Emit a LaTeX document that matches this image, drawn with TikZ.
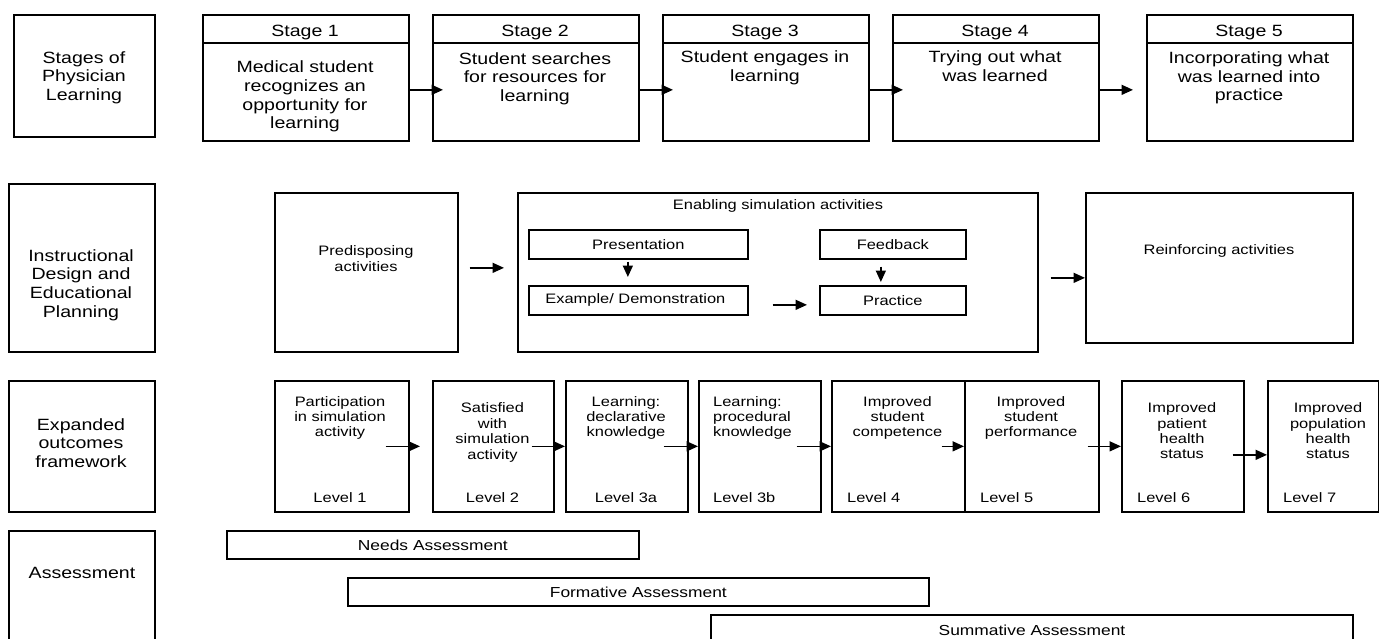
\documentclass[tikz,border=0pt]{standalone}
\usepackage{fontspec}
\setmainfont{Liberation Sans}[FakeStretch=1.2]
\usetikzlibrary{arrows.meta}
\newcommand\FBig{\fontsize{16.3}{18.7}\selectfont}
\newcommand\FSm{\fontsize{13.7}{15.4}\selectfont}
\newcommand\FAss{\fontsize{14.5}{16}\selectfont}
\newcommand\mybox[6][]{\node[box,minimum width={#5-#3},minimum height={#6-#4},#1] (#2) at (#3,#4) {};}
\begin{document}
\begin{tikzpicture}[x=1pt,y=-1pt,
  box/.style={draw, line width=1.7pt, inner sep=0pt, anchor=north west},
  arr/.style={-{Triangle[length=11.5pt,width=10pt]}, line width=1.6pt},
  big/.style={font=\FBig, align=center, inner sep=0pt},
  sm/.style={font=\FSm, align=center, inner sep=0pt},
  ass/.style={font=\FAss, align=center, inner sep=0pt}]
\useasboundingbox (0,0) rectangle (1379,639);
\clip (0,0) rectangle (1379,639);
% ---------- Row 1 ----------
\mybox{lab1}{13}{14}{154}{136}
\node[big] (lab1t) at (84,77.5) {Stages of\\Physician\\Learning};
\mybox{s1h}{202}{14}{408}{42}
\mybox{s1b}{202}{42}{408}{140}
\mybox{s2h}{432}{14}{638}{42}
\mybox{s2b}{432}{42}{638}{140}
\mybox{s3h}{662}{14}{868}{42}
\mybox{s3b}{662}{42}{868}{140}
\mybox{s4h}{892}{14}{1098}{42}
\mybox{s4b}{892}{42}{1098}{140}
\mybox{s5h}{1146}{14}{1352}{42}
\mybox{s5b}{1146}{42}{1352}{140}
\node[big] (s1ht) at (305,32.5) {Stage 1};
\node[big] (s2ht) at (535,32.5) {Stage 2};
\node[big] (s3ht) at (765,32.5) {Stage 3};
\node[big] (s4ht) at (995,32.5) {Stage 4};
\node[big] (s5ht) at (1249,32.5) {Stage 5};
\node[big] (s1t) at (305,96.5) {Medical student\\recognizes an\\opportunity for\\learning};
\node[big] (s2t) at (535,78.5) {Student searches\\for resources for\\learning};
\node[big] (s3t) at (765,68) {Student engages in\\learning};
\node[big] (s4t) at (995,66.5) {Trying out what\\was learned};
\node[big] (s5t) at (1249,78) {Incorporating what\\was learned into\\practice};
\draw[arr] ([yshift=2pt]s1b.east) -- ([yshift=2pt,xshift=11pt]s2b.west);
\draw[arr] ([yshift=2pt]s2b.east) -- ([yshift=2pt,xshift=11pt]s3b.west);
\draw[arr] ([yshift=2pt]s3b.east) -- ([yshift=2pt,xshift=11pt]s4b.west);
\draw[arr] ([yshift=2pt]s4b.east) -- ([yshift=2pt,xshift=-13pt]s5b.west);
% ---------- Row 2 ----------
\mybox{lab2}{8}{183}{154}{351}
\node[big] (lab2t) at (81,285) {Instructional\\Design and\\Educational\\Planning};
\mybox{pre}{274}{192}{457}{351}
\node[sm] (pret) at (366,258.5) {Predisposing\\activities};
\mybox{ena}{517}{192}{1037}{351}
\node[sm] (enat) at (778,206.3) {Enabling simulation activities};
\mybox[font=\FSm]{pres}{528}{229}{747}{258}
\mybox[font=\FSm]{exa}{528}{285}{747}{314}
\mybox[font=\FSm]{fee}{819}{229}{965}{258}
\mybox[font=\FSm]{pra}{819}{285}{965}{314}
\node[sm] (prest) at (pres.center) {Presentation};
\node[sm] (exat) at ([xshift=-3pt]exa.center) {Example/ Demonstration};
\node[sm] (feet) at (fee.center) {Feedback};
\node[sm] (prat) at (pra.center) {Practice};
\mybox{rei}{1085}{192}{1352}{342}
\node[sm] (reit) at (1219,251.3) {Reinforcing activities};
\draw[arr] ([xshift=11pt,yshift=4.5pt]pre.east) -- ([xshift=-13pt,yshift=4.5pt]ena.west);
\path ([xshift=12pt,yshift=-5.5pt]ena.east) coordinate (er1);
\draw[arr] (er1) -- (er1 -| rei.west);
\draw[arr] ([xshift=24pt,yshift=-4.5pt]exa.east) -- ([xshift=-12pt,yshift=-4.5pt]pra.west);
\draw[arr] ([xshift=-10.5pt,yshift=-2pt]pres.south) -- ([xshift=-10.5pt,yshift=8pt]exa.north);
\draw[arr] ([xshift=-12pt,yshift=-7pt]fee.south) -- ([xshift=-12pt,yshift=3pt]pra.north);
% ---------- Row 3 ----------
\mybox{lab3}{8}{380}{154}{511}
\node[big] (lab3t) at (81,443) {Expanded\\outcomes\\framework};
\mybox{L1}{274}{380}{408}{511}
\mybox{L2}{432}{380}{553}{511}
\mybox{L3a}{565}{380}{687}{511}
\mybox{L3b}{698}{380}{820}{511}
\mybox{L4}{831}{380}{964}{511}
\mybox{L5}{964}{380}{1098}{511}
\mybox{L6}{1121}{380}{1243}{511}
\mybox{L7}{1267}{380}{1378}{511}
\node[sm] (L1t) at (340,418) {Participation\\in simulation\\activity};
\node[sm] (L2t) at (492.5,432.5) {Satisfied\\with\\simulation\\activity};
\node[sm] (L3at) at (626,418) {Learning:\\declarative\\knowledge};
\node[sm, align=left, anchor=west] (L3bt) at (713,418) {Learning:\\procedural\\knowledge};
\node[sm] (L4t) at (897.5,418) {Improved\\student\\competence};
\node[sm] (L5t) at (1031,418) {Improved\\student\\performance};
\node[sm] (L6t) at (1182,431) {Improved\\patient\\health\\status};
\node[sm] (L7t) at (1328,431) {Improved\\population\\health\\status};
\node[sm] (L1l) at (340,498) {Level 1};
\node[sm] (L2l) at (492.5,498) {Level 2};
\node[sm] (L3al) at (626,498) {Level 3a};
\node[sm, anchor=west] (L3bl) at (713,498) {Level 3b};
\node[sm, anchor=west] (L4l) at (847,498) {Level 4};
\node[sm, anchor=west] (L5l) at (980,498) {Level 5};
\node[sm, anchor=west] (L6l) at (1137,498) {Level 6};
\node[sm, anchor=west] (L7l) at (1283,498) {Level 7};
\draw[arr] ([xshift=-24pt]L1.east) -- ([xshift=-12pt]L2.west);
\draw[arr] ([xshift=-23pt]L2.east) -- (L3a.west);
\draw[arr] ([xshift=-25pt]L3a.east) -- (L3b.west);
\draw[arr] ([xshift=-25pt]L3b.east) -- (L4.west);
\draw[arr] ([xshift=-24pt]L4.east) -- (L5.west);
\draw[arr] ([xshift=-12pt]L5.east) -- (L6.west);
\draw[arr] ([xshift=-12pt,yshift=-8.5pt]L6.east) -- ([yshift=-8.5pt]L7.west);
% ---------- Row 4 ----------
\mybox{lab4}{8}{530}{154}{650}
\node[big] (lab4t) at (82,573) {Assessment};
\mybox[font=\FAss]{needs}{226}{530}{638}{558}
\mybox[font=\FAss]{form}{347}{577}{928}{605}
\mybox[font=\FAss]{summ}{710}{614}{1352}{650}
\node[ass] (needst) at (needs.center) {Needs Assessment};
\node[ass] (formt) at (form.center) {Formative Assessment};
\node[ass] (summt) at (1032,630) {Summative Assessment};
\end{tikzpicture}
\end{document}
